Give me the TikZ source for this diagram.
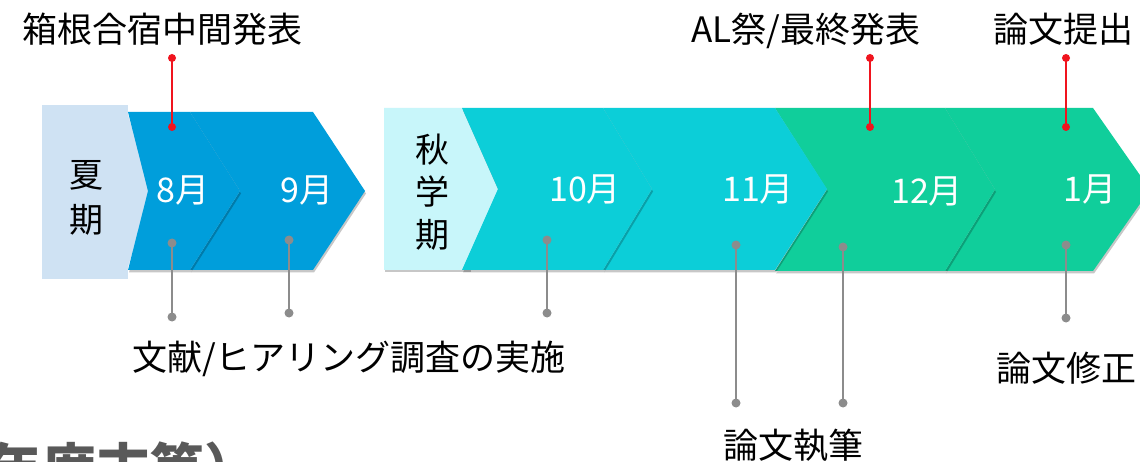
\documentclass[tikz,border=0pt]{standalone}
\usepackage{fontspec}
\setmainfont{Noto Sans CJK JP}
\definecolor{sumbox}{RGB}{207,226,243}
\definecolor{autbox}{RGB}{200,246,250}
\definecolor{cblue}{RGB}{0,158,219}
\definecolor{ccyan}{RGB}{12,206,216}
\definecolor{cgreen}{RGB}{16,206,155}
\definecolor{pinred}{RGB}{240,20,30}
\definecolor{pingray}{RGB}{140,140,140}
\definecolor{notegray}{RGB}{89,89,89}
\newcommand\mychev[7]{%
  \fill[black,opacity=0.22,shift={(1,2.5)}] (#2,#6) -- ({#2+#3},{(#6+#7)/2}) -- (#2,#7) -- (#4,#7) -- ({#4+#5},{(#6+#7)/2}) -- (#4,#6) -- cycle;
  \fill[#1] (#2,#6) -- ({#2+#3},{(#6+#7)/2}) -- (#2,#7) -- (#4,#7) -- ({#4+#5},{(#6+#7)/2}) -- (#4,#6) -- cycle;}
\begin{document}
\begin{tikzpicture}[x=1pt,y=-1pt,
  lbl/.style={inner sep=0,anchor=base,font=\fontsize{35}{40}\selectfont},
  mon/.style={inner sep=0,anchor=base,text=white,font=\fontsize{34}{36}\selectfont},
  term/.style={inner sep=0,anchor=base,font=\fontsize{34}{40}\selectfont},
  reddot/.style={circle,fill=pinred,inner sep=0,minimum size=8pt},
  graydot/.style={circle,fill=pingray,inner sep=0,minimum size=9pt},
  redline/.style={draw=pinred,line width=1.5pt},
  grayline/.style={draw=pingray,line width=1.5pt}]
\clip (0,0) rectangle (1140,462);
\fill[white] (0,0) rectangle (1140,462);
% summer group
\fill[sumbox] (42,105) rectangle (128,279);
\fill[sumbox] (127,112) -- (152,191) -- (127,270) -- cycle;
\mychev{cblue}{190}{50}{313}{52}{112}{270}
\mychev{cblue}{128}{20}{190}{50}{112}{270}
% autumn group
\mychev{cgreen}{945}{50}{1093}{57}{108}{271}
\mychev{cgreen}{775}{52}{945}{50}{108}{271}
\mychev{ccyan}{603}{49}{775}{52}{108}{270}
\fill[black,opacity=0.22,shift={(1,2.5)}] (384,108) rectangle (470,270);
\fill[autbox] (384,108) -- (462,108) -- (500,189) -- (462,270) -- (384,270) -- cycle;
\mychev{ccyan}{462}{36}{603}{49}{108}{270}
% period labels
\node[term] (s1) at (86,188) {夏};
\node[term] (s2) at (86,233) {期};
\node[term] (a1) at (432,163) {秋};
\node[term] (a2) at (432,205) {学};
\node[term] (a3) at (432,248) {期};
% months
\node[mon] (m8) at (183,203) {8月};
\node[mon] (m9) at (307,203) {9月};
\node[mon] (m10) at (585,202) {10月};
\node[mon] (m11) at (758,202) {11月};
\node[mon] (m12) at (927,204) {12月};
\node[mon] (m1) at (1090,202) {1月};
% top labels
\node[lbl] (t1) at (162,43) {箱根合宿中間発表};
\node[lbl] (t2) at (806,43) {AL祭/最終発表};
\node[lbl] (t3) at (1063,43) {論文提出};
% red pins
\node[reddot] (r1a) at (172,58) {};
\node[reddot] (r1b) at (172,127) {};
\node[reddot] (r2a) at (870,58) {};
\node[reddot] (r2b) at (870,127) {};
\node[reddot] (r3a) at (1066,58) {};
\node[reddot] (r3b) at (1066,127) {};
\draw[redline] (r1a.center) -- (r1b.center);
\draw[redline] (r2a.center) -- (r2b.center);
\draw[redline] (r3a.center) -- (r3b.center);
% gray pins
\node[graydot] (g1a) at (172,243) {};
\node[graydot] (g1b) at (172,317) {};
\node[graydot] (g2a) at (289,240) {};
\node[graydot] (g2b) at (289,313) {};
\node[graydot] (g3a) at (547,240) {};
\node[graydot] (g3b) at (547,313) {};
\node[graydot] (g4a) at (736,245) {};
\node[graydot] (g4b) at (736,403) {};
\node[graydot] (g5a) at (843,247) {};
\node[graydot] (g5b) at (843,403) {};
\node[graydot] (g6a) at (1066,245) {};
\node[graydot] (g6b) at (1066,318) {};
\draw[grayline] (g1a.center) -- (g1b.center);
\draw[grayline] (g2a.center) -- (g2b.center);
\draw[grayline] (g3a.center) -- (g3b.center);
\draw[grayline] (g4a.center) -- (g4b.center);
\draw[grayline] (g5a.center) -- (g5b.center);
\draw[grayline] (g6a.center) -- (g6b.center);
% bottom labels
\node[lbl,anchor=base west] (b1) at (132,370) {文献/ヒアリング調査の実施};
\node[lbl,anchor=base west] (b2) at (996,381) {論文修正};
\node[lbl] (b3) at (793,458) {論文執筆};
\node[inner sep=0,anchor=base west,text=notegray,font=\fontsize{54}{60}\selectfont\bfseries] (note) at (-12,488) {年度末等）};
\end{tikzpicture}
\end{document}
